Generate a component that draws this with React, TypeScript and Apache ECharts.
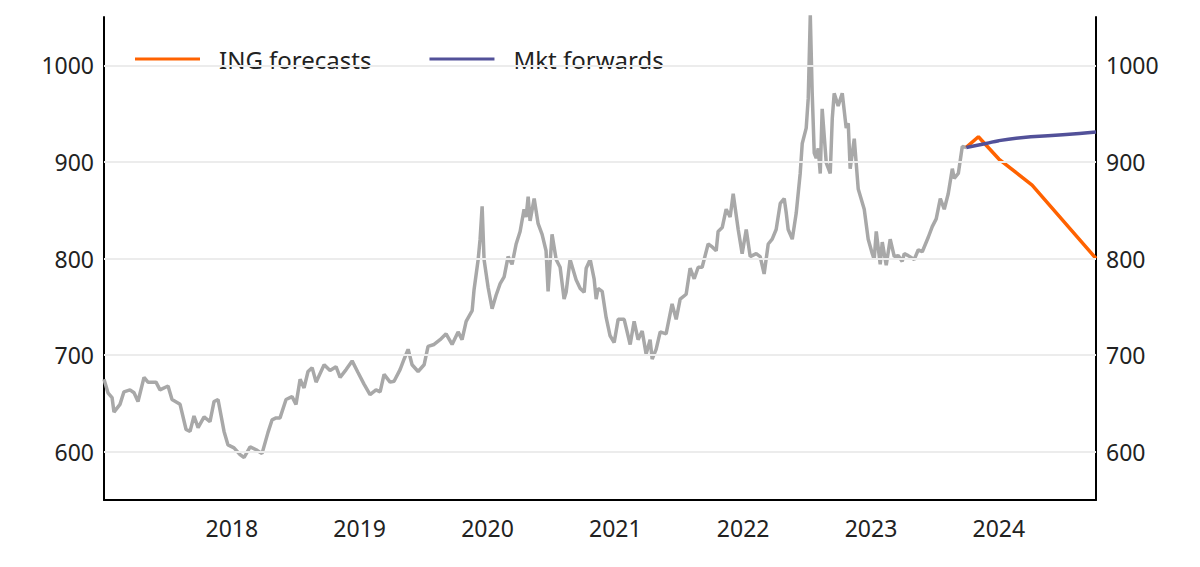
import { useEffect, useRef } from "react";
import * as echarts from "echarts";

// decimal years of the weekly observations, and the price at each
const histYears = [
  2017.0, 2017.031, 2017.063, 2017.078, 2017.125, 2017.156, 2017.203, 2017.235, 2017.266, 2017.313,
  2017.344, 2017.407, 2017.438, 2017.501, 2017.532, 2017.595, 2017.642, 2017.673, 2017.704, 2017.736,
  2017.783, 2017.829, 2017.861, 2017.892, 2017.939, 2017.97, 2018.017, 2018.064, 2018.096, 2018.143,
  2018.19, 2018.236, 2018.283, 2018.315, 2018.346, 2018.377, 2018.424, 2018.471, 2018.502, 2018.534,
  2018.565, 2018.596, 2018.628, 2018.659, 2018.722, 2018.768, 2018.815, 2018.847, 2018.894, 2018.941,
  2018.987, 2019.034, 2019.081, 2019.128, 2019.16, 2019.191, 2019.238, 2019.269, 2019.316, 2019.348,
  2019.379, 2019.41, 2019.457, 2019.504, 2019.535, 2019.582, 2019.629, 2019.676, 2019.723, 2019.77,
  2019.801, 2019.833, 2019.88, 2019.895, 2019.927, 2019.942, 2019.958, 2019.973, 2020.005, 2020.036,
  2020.067, 2020.099, 2020.13, 2020.161, 2020.192, 2020.224, 2020.255, 2020.286, 2020.302, 2020.318,
  2020.333, 2020.365, 2020.396, 2020.427, 2020.458, 2020.474, 2020.505, 2020.537, 2020.568, 2020.599,
  2020.615, 2020.646, 2020.693, 2020.725, 2020.756, 2020.772, 2020.803, 2020.834, 2020.85, 2020.865,
  2020.897, 2020.928, 2020.959, 2020.991, 2021.022, 2021.069, 2021.116, 2021.147, 2021.178, 2021.21,
  2021.241, 2021.272, 2021.288, 2021.319, 2021.351, 2021.397, 2021.444, 2021.476, 2021.507, 2021.554,
  2021.585, 2021.617, 2021.648, 2021.679, 2021.726, 2021.758, 2021.789, 2021.804, 2021.836, 2021.867,
  2021.898, 2021.922, 2021.961, 2021.992, 2022.024, 2022.055, 2022.102, 2022.133, 2022.164, 2022.196,
  2022.227, 2022.258, 2022.29, 2022.321, 2022.337, 2022.352, 2022.384, 2022.415, 2022.446, 2022.462,
  2022.493, 2022.509, 2022.525, 2022.54, 2022.556, 2022.571, 2022.587, 2022.603, 2022.618, 2022.65,
  2022.681, 2022.697, 2022.712, 2022.743, 2022.775, 2022.806, 2022.822, 2022.837, 2022.869, 2022.9,
  2022.947, 2022.978, 2023.01, 2023.025, 2023.041, 2023.072, 2023.088, 2023.119, 2023.15, 2023.182,
  2023.213, 2023.244, 2023.26, 2023.291, 2023.338, 2023.37, 2023.401, 2023.448, 2023.479, 2023.51,
  2023.542, 2023.573, 2023.604, 2023.636, 2023.651, 2023.683, 2023.714, 2023.745,
];
const histValues = [
  675, 661, 656, 641, 649, 662, 664, 661, 652, 677,
  672, 672, 664, 668, 654, 649, 623, 621, 637, 625,
  636, 631, 652, 654, 621, 607, 604, 597, 594, 605,
  602, 598, 620, 633, 635, 635, 654, 657, 649, 675,
  666, 683, 687, 672, 690, 684, 688, 677, 685, 694,
  682, 670, 659, 664, 662, 680, 672, 673, 685, 696,
  706, 690, 683, 690, 709, 711, 716, 722, 711, 724,
  716, 735, 746, 768, 799, 820, 854, 799, 770, 748,
  762, 774, 781, 802, 794, 815, 828, 851, 843, 864,
  839, 862, 836, 825, 808, 766, 825, 799, 791, 758,
  765, 799, 778, 769, 765, 790, 799, 779, 758, 769,
  766, 739, 720, 713, 737, 737, 711, 735, 716, 725,
  701, 716, 696, 706, 724, 722, 753, 737, 758, 763,
  790, 779, 791, 791, 815, 812, 808, 828, 832, 851,
  843, 867, 830, 805, 830, 802, 805, 802, 784, 815,
  820, 830, 857, 862, 847, 830, 820, 847, 888, 919,
  935, 966, 1052, 971, 909, 904, 914, 888, 955, 899,
  888, 945, 971, 958, 971, 935, 940, 893, 924, 872,
  851, 820, 805, 799, 828, 794, 817, 793, 820, 802,
  803, 797, 805, 803, 799, 809, 807, 822, 833, 841,
  862, 851, 867, 893, 883, 888, 916, 915,
];

const ingYears = [2023.745, 2023.84, 2024.0, 2024.26, 2024.76];
const ingValues = [915, 926, 903, 876, 800];

const fwdYears = [2023.745, 2023.9, 2024.0, 2024.25, 2024.5, 2024.76];
const fwdValues = [915, 919, 922, 926, 928, 931];

const yTicks = [600, 700, 800, 900, 1000];
const xTicks = [2018, 2019, 2020, 2021, 2022, 2023, 2024];

const zip = (xs: number[], ys: number[]) => xs.map((x, i) => [x, ys[i]]);

export default function App() {
  const ref = useRef<HTMLDivElement | null>(null);

  useEffect(() => {
    document.body.style.margin = "0";
    if (!ref.current) return;
    const chart = echarts.init(ref.current, null, { renderer: "svg" });
    const font = "'Noto Sans', sans-serif";
    const yAxisBase = {
      type: "value",
      min: 550,
      max: 1050,
      interval: 50,
      axisLine: { show: true, lineStyle: { color: "#000", width: 2 } },
      axisTick: { show: false },
      axisLabel: {
        color: "#222",
        fontSize: 23,
        fontFamily: font,
        margin: 10,
        formatter: (v: number) => (yTicks.includes(v) ? String(v) : ""),
      },
      splitLine: { show: false },
    };

    chart.setOption({
      animation: false,
      grid: { left: 104, right: 104, top: 17, bottom: 67 },
      legend: {
        top: 42,
        left: 130,
        itemWidth: 65,
        itemHeight: 3,
        itemGap: 58,
        icon: "rect",
        textStyle: { color: "#222", fontSize: 24, fontFamily: font, padding: [0, 0, 0, 14] },
        data: ["ING forecasts", "Mkt forwards"],
      },
      xAxis: {
        type: "value",
        min: 2017,
        max: 2024.76,
        interval: 1,
        axisLine: { lineStyle: { color: "#000", width: 2 } },
        axisTick: { show: false },
        splitLine: { show: false },
        axisLabel: {
          color: "#222",
          fontSize: 23,
          fontFamily: font,
          margin: 16,
          showMinLabel: false,
          showMaxLabel: false,
          formatter: (v: number) => (xTicks.includes(v) ? String(v) : ""),
        },
      },
      yAxis: [
        { ...yAxisBase, position: "left" },
        { ...yAxisBase, position: "right" },
      ],
      series: [
        {
          name: "grid",
          type: "line",
          silent: true,
          data: [],
          markLine: {
            silent: true,
            symbol: "none",
            label: { show: false },
            lineStyle: { color: "#ececec", width: 2, type: "solid" },
            data: yTicks.map((t) => ({ yAxis: t })),
          },
        },
        {
          name: "history",
          type: "line",
          showSymbol: false,
          lineStyle: { color: "#a8a8a8", width: 3.5 },
          itemStyle: { color: "#a8a8a8" },
          data: zip(histYears, histValues),
        },
        {
          name: "ING forecasts",
          type: "line",
          showSymbol: false,
          lineStyle: { color: "#ff6200", width: 3.5 },
          itemStyle: { color: "#ff6200" },
          data: zip(ingYears, ingValues),
        },
        {
          name: "Mkt forwards",
          type: "line",
          smooth: true,
          showSymbol: false,
          lineStyle: { color: "#525199", width: 3.5 },
          itemStyle: { color: "#525199" },
          data: zip(fwdYears, fwdValues),
        },
      ],
    });
    return () => chart.dispose();
  }, []);

  return <div ref={ref} style={{ width: 1200, height: 567 }} />;
}
